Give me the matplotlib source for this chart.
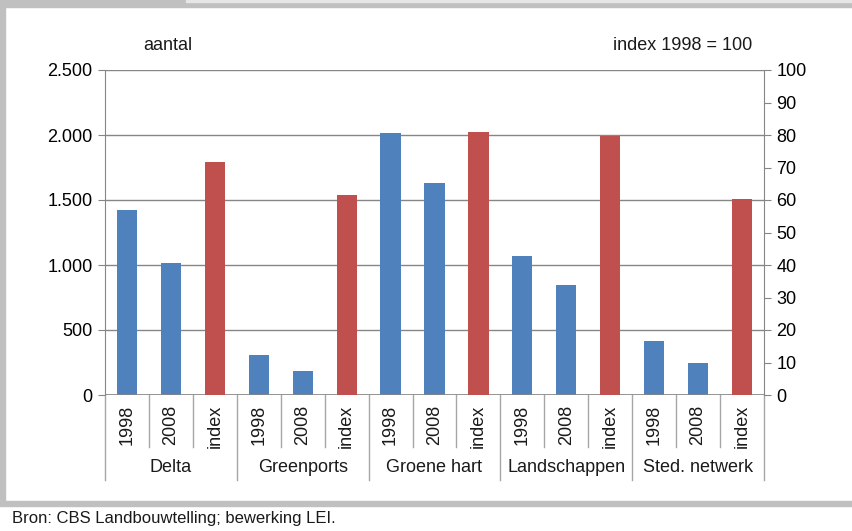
import matplotlib
matplotlib.use("Agg")
import matplotlib.pyplot as plt
from matplotlib.patches import Rectangle
from matplotlib.transforms import blended_transform_factory
import numpy as np

# ---- data ----
regions = ["Delta", "Greenports", "Groene hart", "Landschappen", "Sted. netwerk"]
sub_labels = ["1998", "2008", "index"]
aantal_1998 = [1420, 308, 2015, 1068, 415]
aantal_2008 = [1015, 185, 1630, 846, 246]
index_2008 = [71.6, 61.5, 81.0, 79.8, 60.2]
left_ticks = [0, 500, 1000, 1500, 2000, 2500]
left_tick_labels = ["0", "500", "1.000", "1.500", "2.000", "2.500"]
right_ticks = [0, 10, 20, 30, 40, 50, 60, 70, 80, 90, 100]

BLUE = "#4F81BD"
RED = "#C0504D"
GRID = "#868686"
FONT = ["Liberation Sans Narrow", "Liberation Sans", "DejaVu Sans"]
plt.rcParams["font.family"] = FONT

W, H = 853, 531
fig = plt.figure(figsize=(W / 100, H / 100), dpi=100)
fig.patch.set_facecolor("white")

# frame decorations
def px_rect(x0, y0, x1, y1, color):
    fig.patches.append(Rectangle((x0 / W, 1 - y1 / H), (x1 - x0) / W, (y1 - y0) / H,
                                 transform=fig.transFigure, color=color, zorder=0))

px_rect(0, 0, W, 7, "#c0c0c0")
px_rect(186, 0, W, 2, "#e6e6e6")
px_rect(0, 0, 5, 503, "#c0c0c0")
px_rect(0, 501, W, 506, "#c0c0c0")

# axes placement: left 105, right 764, top 70, bottom 395
L, R, T, B = 105, 764, 70, 395
ax = fig.add_axes([L / W, 1 - B / H, (R - L) / W, (B - T) / H])
ax2 = ax.twinx()

n = len(regions)
bw = 0.46
for i in range(n):
    ax.bar(3 * i, aantal_1998[i], width=bw, color=BLUE, zorder=3)
    ax.bar(3 * i + 1, aantal_2008[i], width=bw, color=BLUE, zorder=3)
    ax2.bar(3 * i + 2, index_2008[i], width=bw, color=RED, zorder=3)

ax.set_xlim(-0.5, 3 * n - 0.5)
ax.set_ylim(0, 2500)
ax2.set_ylim(0, 100)
ax.set_yticks(left_ticks)
ax.set_yticklabels(left_tick_labels)
ax2.set_yticks(right_ticks)
ax.grid(axis="y", color=GRID, linewidth=1.0, zorder=0)
ax.set_axisbelow(True)
ax.set_xticks([])

for a in (ax, ax2):
    for s in a.spines.values():
        s.set_visible(False)
ax.spines["left"].set_visible(True)
ax.spines["left"].set_color(GRID)
ax2.spines["right"].set_visible(True)
ax2.spines["right"].set_color(GRID)
ax.tick_params(axis="y", length=5, color=GRID, labelsize=13, pad=4)
ax2.tick_params(axis="y", length=5, color=GRID, labelsize=13, pad=4)

# bottom axis line
ax.axhline(0, color=GRID, linewidth=1.2, zorder=4)

# multi-level category axis
tr = blended_transform_factory(ax.transData, ax.transAxes)
h = B - T
y_short = -(447 - B) / h
y_long = -(480 - B) / h
for k in range(3 * n + 1):
    xk = k - 0.5
    yb = y_long if k % 3 == 0 else y_short
    ax.plot([xk, xk], [0, yb], transform=tr, color="#a6a6a6", linewidth=1.0,
            clip_on=False)
for i in range(n):
    for j, lab in enumerate(sub_labels):
        ax.text(3 * i + j, -(405 - B) / h, lab, transform=tr, rotation=90,
                ha="center", va="top", fontsize=13, color="#1a1a1a")
    ax.text(3 * i + 1, -(468 - B) / h, regions[i], transform=tr,
            ha="center", va="center", fontsize=13, color="#1a1a1a")

# axis titles
fig.text(143 / W, 1 - 45 / H, "aantal", ha="left", va="center", fontsize=13,
         color="#1a1a1a")
fig.text(752 / W, 1 - 45 / H, "index 1998 = 100", ha="right", va="center",
         fontsize=13, color="#1a1a1a")

# source
fig.text(12 / W, 1 - 518 / H, "Bron: CBS Landbouwtelling; bewerking LEI.",
         ha="left", va="center", fontsize=12, color="#1a1a1a")

fig.savefig("out.png", dpi=100)
